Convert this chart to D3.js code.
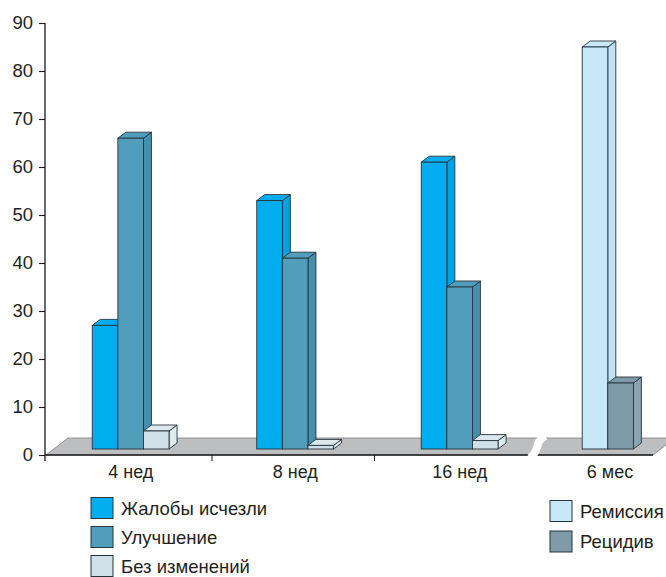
<!DOCTYPE html>
<html>
<head>
<meta charset="utf-8">
<script src="https://cdn.jsdelivr.net/npm/d3@7"></script>
<style>
  html, body { margin: 0; padding: 0; background: #fff; }
  svg { display: block; font-family: "Liberation Sans", Arial, sans-serif; }
</style>
</head>
<body>
<svg id="chart" width="666" height="577"></svg>
<script>
// Weekly follow-up groups
const categories = ["4 нед", "8 нед", "16 нед"];
const seriesNames = ["Жалобы исчезли", "Улучшение", "Без изменений"];
const complaintsGone = [27, 53, 61];
const improvement = [66, 41, 35];
const noChange = [5, 2, 3];

// Six-month outcome
const laterCategory = ["6 мес"];
const laterNames = ["Ремиссия", "Рецидив"];
const remission = [85];
const relapse = [15];

const yTicks = [0, 10, 20, 30, 40, 50, 60, 70, 80, 90];

const palette = {
  "Жалобы исчезли": { front: "#00aeef", side: "#00a3e0", top: "#00aeef" },
  "Улучшение":      { front: "#509ebc", side: "#458fac", top: "#509ebc" },
  "Без изменений":  { front: "#cfe0e8", side: "#e0ebf0", top: "#dce8ee" },
  "Ремиссия":       { front: "#c6e8f8", side: "#c0e2f3", top: "#c6e8f8" },
  "Рецидив":        { front: "#7f9ba9", side: "#8aa4b1", top: "#7f9ba9" }
};

const svg = d3.select("#chart");
const textColor = "#231f20";
const edge = "#26343c";

const y = d3.scaleLinear().domain([0, 90]).range([455, 23]);
const xMain = d3.scaleBand().domain(categories).range([48.5, 542]);
const xLater = d3.scaleBand().domain(laterCategory).range([543, 675]);

const barW = 25.6;   // width of one column
const depthX = 8, depthY = 6;   // column depth offset
const floorDX = 22, floorDY = 17;
const baseY = y(0) - depthY;    // columns stand on the floor

// Floor
const floorFront = y(0), floorBack = y(0) - floorDY;
svg.append("path")
  .attr("d", `M46,${floorFront} L653,${floorFront} L${653 + floorDX},${floorBack} L${46 + floorDX},${floorBack} Z`)
  .attr("fill", "#bdbec0")
  .attr("stroke", "#7d7e80")
  .attr("stroke-width", 0.8);

// front edge of floor / category axis
svg.append("line").attr("x1", 45).attr("x2", 653)
  .attr("y1", y(0)).attr("y2", y(0))
  .attr("stroke", "#1a1a1a").attr("stroke-width", 1.3);

// category ticks between groups
const tickXs = [xMain("8 нед") - 1, xMain("16 нед") - 3];
svg.selectAll(".xtick").data(tickXs).enter().append("line")
  .attr("x1", d => d).attr("x2", d => d)
  .attr("y1", y(0)).attr("y2", y(0) + 6)
  .attr("stroke", "#1a1a1a").attr("stroke-width", 1);

// axis break between weeks and months
svg.append("path")
  .attr("d", `M530,${y(0) + 3} C541,${y(0) - 6} 533,${y(0) - 11} 545,${floorBack - 2}`)
  .attr("fill", "none")
  .attr("stroke", "#fff")
  .attr("stroke-width", 8);

// Value axis
const yAxis = d3.axisLeft(y).tickValues(yTicks).tickSize(6).tickSizeOuter(0).tickPadding(6);
const gy = svg.append("g").attr("transform", "translate(45,0)").call(yAxis);
gy.select(".domain").remove();
gy.append("line").attr("x1", 0).attr("x2", 0).attr("y1", y(90)).attr("y2", y(0) + 6)
  .attr("stroke", "#1a1a1a").attr("stroke-width", 1.3);
gy.selectAll(".tick line").attr("stroke", "#1a1a1a").attr("stroke-width", 1.1);
gy.selectAll(".tick text")
  .attr("fill", textColor)
  .style("font-size", "18.5px")
  .style("font-family", "'Liberation Sans', Arial, sans-serif");

// 3D column
function column(g, x0, value, name) {
  const c = palette[name];
  const top = y(value);
  const x1 = x0 + barW;
  g.append("path")   // right side
    .attr("d", `M${x1},${baseY} L${x1},${top} L${x1 + depthX},${top - depthY} L${x1 + depthX},${baseY - depthY} Z`)
    .attr("fill", c.side).attr("stroke", edge).attr("stroke-width", 0.9).attr("stroke-linejoin", "round");
  g.append("path")   // top
    .attr("d", `M${x0},${top} L${x0 + depthX},${top - depthY} L${x1 + depthX},${top - depthY} L${x1},${top} Z`)
    .attr("fill", c.top).attr("stroke", edge).attr("stroke-width", 0.9).attr("stroke-linejoin", "round");
  g.append("rect")   // front
    .attr("x", x0).attr("y", top).attr("width", barW).attr("height", Math.max(0, baseY - top))
    .attr("fill", c.front).attr("stroke", edge).attr("stroke-width", 0.9);
}

const mainSeries = [complaintsGone, improvement, noChange];
const bars = svg.append("g");
categories.forEach((cat, i) => {
  const start = xMain(cat) + xMain.bandwidth() / 2 - 38.5;
  mainSeries.forEach((vals, s) => column(bars, start + s * barW, vals[i], seriesNames[s]));
});
const laterSeries = [remission, relapse];
laterCategory.forEach((cat, i) => {
  const start = xLater(cat) + xLater.bandwidth() / 2 - barW - 1.2;
  laterSeries.forEach((vals, s) => column(bars, start + s * barW, vals[i], laterNames[s]));
});

// Category labels
const labelY = y(0) + 23;
svg.selectAll(".xlab").data(categories).enter().append("text")
  .attr("x", d => xMain(d) + xMain.bandwidth() / 2)
  .attr("y", labelY)
  .attr("text-anchor", "middle")
  .attr("fill", textColor)
  .style("font-size", "18px")
  .text(d => d);
svg.selectAll(".xlab2").data(laterCategory).enter().append("text")
  .attr("x", d => xLater(d) + xLater.bandwidth() / 2 + 1)
  .attr("y", labelY)
  .attr("text-anchor", "middle")
  .attr("fill", textColor)
  .style("font-size", "18px")
  .text(d => d);

// Legends
function legend(names, x, y0, step) {
  const g = svg.append("g");
  names.forEach((n, i) => {
    const yy = y0 + i * step;
    g.append("rect").attr("x", x).attr("y", yy).attr("width", 22).attr("height", 21)
      .attr("fill", palette[n].front).attr("stroke", edge).attr("stroke-width", 1);
    g.append("text").attr("x", x + 30).attr("y", yy + 11)
      .attr("dy", "0.35em")
      .attr("fill", textColor)
      .style("font-size", "18.5px")
      .text(n);
  });
}
legend(seriesNames, 91, 497.5, 29);
legend(laterNames, 550, 500.5, 30.5);
</script>
</body>
</html>
